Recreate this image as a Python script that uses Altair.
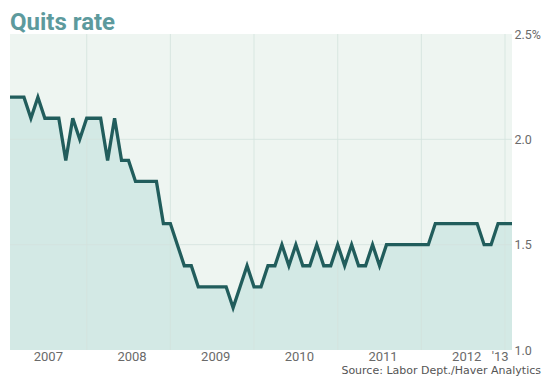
import altair as alt
import pandas as pd

# Monthly quits rate (%), Feb 2007 .. Feb 2013
months = pd.date_range("2007-02-01", periods=73, freq="MS").strftime("%Y-%m").tolist()
quits = [2.2, 2.2, 2.2, 2.1, 2.2, 2.1, 2.1, 2.1, 1.9, 2.1, 2.0, 2.1,
         2.1, 2.1, 1.9, 2.1, 1.9, 1.9, 1.8, 1.8, 1.8, 1.8, 1.6, 1.6,
         1.5, 1.4, 1.4, 1.3, 1.3, 1.3, 1.3, 1.3, 1.2, 1.3, 1.4, 1.3,
         1.3, 1.4, 1.4, 1.5, 1.4, 1.5, 1.4, 1.4, 1.5, 1.4, 1.4, 1.5,
         1.4, 1.5, 1.4, 1.4, 1.5, 1.4, 1.5, 1.5, 1.5, 1.5, 1.5, 1.5,
         1.5, 1.6, 1.6, 1.6, 1.6, 1.6, 1.6, 1.6, 1.5, 1.5, 1.6, 1.6, 1.6]

year_labels = ["2007", "2008", "2009", "2010", "2011", "2012", "'13"]
year_label_pos = [6.5, 18.5, 30.5, 42.5, 54.5, 66.5, 71.3]
year_bounds = [12, 24, 36, 48, 60, 72]
y_ticks = [1.0, 1.5, 2.0, 2.5]
y_grid = [1.5, 2.0]

df = pd.DataFrame({"month": months, "m": list(range(1, len(quits) + 1)), "rate": quits})
years_df = pd.DataFrame({"label": year_labels, "pos": year_label_pos})
bounds_df = pd.DataFrame({"b": year_bounds})
hgrid_df = pd.DataFrame({"v": y_grid})

LINE = "#215d5c"
FILL = "#d3e9e5"
BG = "#eef5f1"
GRID = "#d3e2dd"
LABEL_FONT = "Roboto, Liberation Sans, sans-serif"

xs = alt.Scale(domain=[1, 73], nice=False, zero=False)
ys = alt.Scale(domain=[1.0, 2.5], nice=False, zero=False)

yaxis = alt.Axis(
    orient="right",
    values=y_ticks,
    labelExpr="datum.value == 2.5 ? '2.5%' : format(datum.value, '.1f')",
    labelFont=LABEL_FONT,
    labelFontSize=12.5,
    labelColor="#6a6a6a",
    labelPadding=2,
    ticks=False,
    domain=False,
    grid=False,
    title=None,
    labelFlush=False,
)

area = alt.Chart(df).mark_area(color=FILL, opacity=1).encode(
    x=alt.X("m:Q", scale=xs, axis=None),
    y=alt.Y("rate:Q", scale=ys, axis=yaxis),
    y2=alt.datum(1.0),
)

vgrid = alt.Chart(bounds_df).mark_rule(color=GRID, strokeWidth=1, opacity=0.8).encode(
    x=alt.X("b:Q", scale=xs, axis=None),
)

hgrid = alt.Chart(hgrid_df).mark_rule(color=GRID, strokeWidth=1, opacity=0.8).encode(
    y=alt.Y("v:Q", scale=ys, axis=yaxis),
)

line = alt.Chart(df).mark_line(color=LINE, strokeWidth=3.3, strokeJoin="miter").encode(
    x=alt.X("m:Q", scale=xs, axis=None),
    y=alt.Y("rate:Q", scale=ys, axis=yaxis),
)

year_text = alt.Chart(years_df).mark_text(
    font=LABEL_FONT, fontSize=13, color="#6a6a6a", baseline="middle", align="center"
).encode(
    x=alt.X("pos:Q", scale=xs, axis=None),
    y=alt.value(323),
    text="label:N",
)

title = alt.Chart(pd.DataFrame({"t": ["Quits rate"]})).mark_text(
    font="Roboto, sans-serif", fontSize=24, fontWeight="bold", color="#5d9a9d",
    align="left", baseline="alphabetic"
).encode(x=alt.value(0), y=alt.value(-4), text="t:N")

source = alt.Chart(pd.DataFrame({"t": ["Source: Labor Dept./Haver Analytics"]})).mark_text(
    font="DejaVu Sans, Verdana, sans-serif", fontSize=11, color="#555555",
    align="right", baseline="middle"
).encode(x=alt.value(531), y=alt.value(336.5), text="t:N")

chart = alt.layer(area, vgrid, hgrid, line, year_text, title, source).properties(
    width=502,
    height=316,
    autosize=alt.AutoSizeParams(type="none"),
    padding={"left": 2, "top": 26, "right": 30, "bottom": 27},
    background="white",
).configure_view(fill=BG, strokeWidth=0)

chart.save("out.html", embed_options={"renderer": "svg", "actions": False})
